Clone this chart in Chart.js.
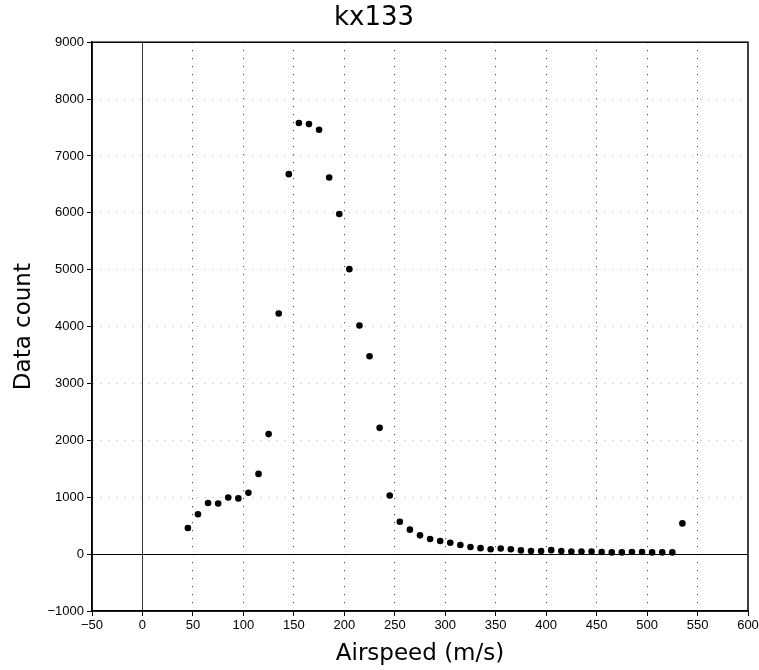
<!DOCTYPE html>
<html>
<head>
<meta charset="utf-8">
<script src="https://cdn.jsdelivr.net/npm/chart.js@4/dist/chart.umd.min.js"></script>
<style>
html,body{margin:0;padding:0;background:#fff;}
#wrap{width:759px;height:670px;}
</style>
</head>
<body>
<div id="wrap"><canvas id="c" width="759" height="670"></canvas></div>
<script>
const airspeed = [45,55,65,75,85,95,105,115,125,135,145,155,165,175,185,195,205,215,225,235,245,255,265,275,285,295,305,315,325,335,345,355,365,375,385,395,405,415,425,435,445,455,465,475,485,495,505,515,525,535];
const counts = [460,700,900,890,995,980,1080,1410,2110,4230,6680,7580,7560,7460,6620,5980,5010,4020,3480,2220,1030,570,430,330,265,230,200,160,125,105,85,100,85,65,55,55,70,55,45,45,45,38,30,30,36,36,30,30,30,540];
const chartTitle = "kx133";
const xTitle = "Airspeed (m/s)";
const yTitle = "Data count";

const points = airspeed.map((x,i)=>({x:x,y:counts[i]}));
const FONT = "'DejaVu Sans', sans-serif";
const TICKFONT = "'Liberation Sans', Arial, sans-serif";

const frame = {
  id:'frame',
  beforeDatasetsDraw(chart){
    const {ctx, chartArea:a, scales:{x,y}} = chart;
    ctx.save();
    ctx.strokeStyle = '#000';
    ctx.lineWidth = 1;
    const y0 = Math.round(y.getPixelForValue(0))+0.5;
    ctx.beginPath(); ctx.moveTo(a.left,y0); ctx.lineTo(a.right,y0); ctx.stroke();
    const x0 = Math.round(x.getPixelForValue(0))+0.5;
    ctx.strokeStyle = '#333';
    ctx.beginPath(); ctx.moveTo(x0,a.top); ctx.lineTo(x0,a.bottom); ctx.stroke();
    ctx.restore();
  },
  afterDraw(chart){
    const {ctx, chartArea:a} = chart;
    ctx.save();
    ctx.strokeStyle = '#000';
    ctx.lineWidth = 1.5;
    ctx.strokeRect(a.left, a.top, a.right-a.left, a.bottom-a.top);
    ctx.restore();
  }
};

new Chart(document.getElementById('c'), {
  type:'scatter',
  data:{datasets:[{data:points, backgroundColor:'#000', borderColor:'#000', pointRadius:3.3, pointHoverRadius:3.3, borderWidth:0}]},
  plugins:[frame],
  options:{
    responsive:false, animation:false, devicePixelRatio:1,
    layout:{padding:{left:0,right:11,top:0,bottom:0}},
    plugins:{
      legend:{display:false}, tooltip:{enabled:false},
      title:{display:true, text:chartTitle, color:'#000', font:{family:FONT,size:26,weight:'normal'}, padding:{top:3,bottom:8}}
    },
    scales:{
      x:{
        type:'linear', min:-50, max:600,
        ticks:{stepSize:50, color:'#000', font:{family:TICKFONT,size:13}, padding:2, maxRotation:0,
          callback:(v)=>String(v).replace('-','\u2212')},
        grid:{drawOnChartArea:true, lineWidth:1,
          color:(c)=>{const v=c.tick&&c.tick.value; return (v===-50||v===600||v===0)?'rgba(0,0,0,0)':'#222';},
          tickColor:'#000', tickLength:5, tickBorderDash:[]},
        border:{display:true, color:'#000', width:1.5, dash:[1,7]},
        title:{display:true, text:xTitle, color:'#000', font:{family:FONT,size:23,weight:'normal'}, padding:{top:0,bottom:2}},
        afterFit:(s)=>{s.height=59; s.paddingRight=0; s.paddingLeft=0;}
      },
      y:{
        type:'linear', min:-1000, max:9000,
        ticks:{stepSize:1000, color:'#000', font:{family:TICKFONT,size:13}, padding:3,
          callback:(v)=>String(v).replace('-','\u2212')},
        grid:{lineWidth:1,
          color:(c)=>{const v=c.tick&&c.tick.value; return (v===-1000||v===9000||v===0)?'rgba(0,0,0,0)':'#aaa';},
          tickColor:'#000', tickLength:5, tickBorderDash:[]},
        border:{display:true, color:'#000', width:1.5, dash:[1,7]},
        title:{display:true, text:yTitle, color:'#000', font:{family:FONT,size:23,weight:'normal'}, padding:{top:10,bottom:0}},
        afterFit:(s)=>{s.width=92;}
      }
    }
  }
});
</script>
</body>
</html>
